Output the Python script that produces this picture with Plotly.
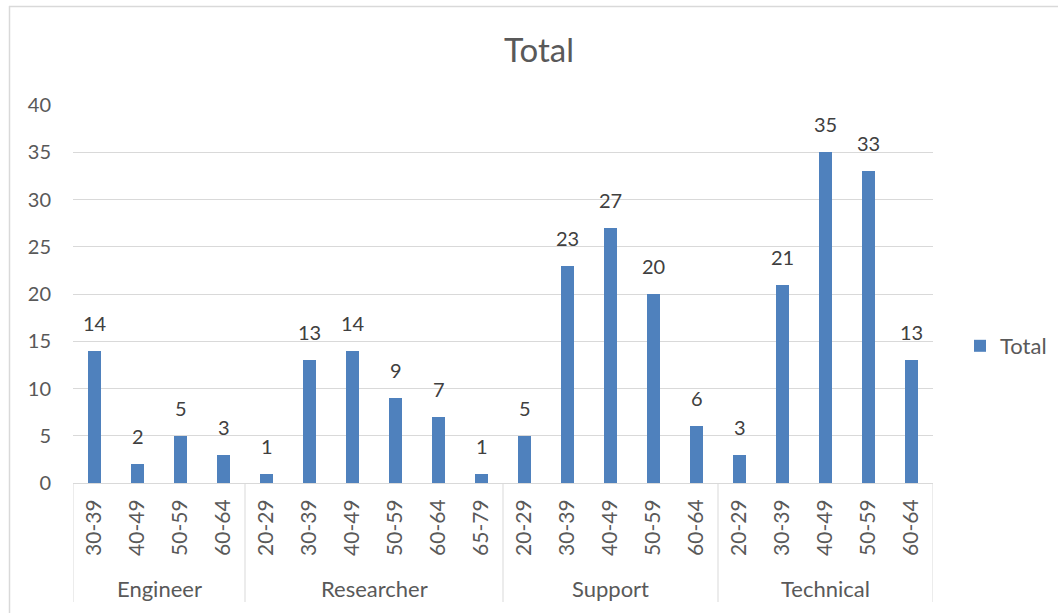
import plotly.graph_objects as go

# ---- data ----
groups = ["Engineer", "Researcher", "Support", "Technical"]
age_bands = [
    ["30-39", "40-49", "50-59", "60-64"],
    ["20-29", "30-39", "40-49", "50-59", "60-64", "65-79"],
    ["20-29", "30-39", "40-49", "50-59", "60-64"],
    ["20-29", "30-39", "40-49", "50-59", "60-64"],
]
totals = [
    [14, 2, 5, 3],
    [1, 13, 14, 9, 7, 1],
    [5, 23, 27, 20, 6],
    [3, 21, 35, 33, 13],
]
y_ticks = [0, 5, 10, 15, 20, 25, 30, 35, 40]

# ---- layout geometry (pixels) ----
W, H = 1058, 613
L, R, T, B = 73, 933, 105, 483

def px_x(px):
    return (px - L) / (R - L)

def px_y(py):
    return (B - py) / (B - T)

FONT = "Lato, Carlito, 'Open Sans', sans-serif"
GRID = "#d9d9d9"
TXT = "#595959"
BAR = "#4f81bd"

xs, ys, labels = [], [], []
bounds = [-0.5]
i = 0
for g, bands, vals in zip(groups, age_bands, totals):
    for b, v in zip(bands, vals):
        xs.append(i)
        ys.append(v)
        labels.append(b)
        i += 1
    bounds.append(i - 0.5)

fig = go.Figure()
fig.add_trace(go.Bar(
    x=xs, y=ys, name="Total", marker=dict(color=BAR, line=dict(width=0)),
    width=0.31, hoverinfo="y",
))

annotations = []
for x, v in zip(xs, ys):
    annotations.append(dict(
        x=x, y=v, xref="x", yref="y", text=str(v), showarrow=False,
        yanchor="bottom", yshift=14, font=dict(family=FONT, size=20, color="#404040"),
    ))

# group labels
start = 0
for g, bands in zip(groups, age_bands):
    center = start + (len(bands) - 1) / 2
    annotations.append(dict(
        x=center, y=px_y(588), xref="x", yref="paper", text=g, showarrow=False,
        yanchor="middle", font=dict(family=FONT, size=22, color=TXT),
    ))
    start += len(bands)

shapes = []
for bx in bounds:
    shapes.append(dict(
        type="line", xref="x", yref="paper", x0=bx, x1=bx, y0=0, y1=px_y(602),
        line=dict(color=GRID, width=1),
    ))
# chart outer border (top and left)
shapes.append(dict(type="line", xref="paper", yref="paper",
                   x0=px_x(9), x1=px_x(1070), y0=px_y(6.5), y1=px_y(6.5),
                   line=dict(color=GRID, width=1.5)))
shapes.append(dict(type="line", xref="paper", yref="paper",
                   x0=px_x(9.5), x1=px_x(9.5), y0=px_y(6), y1=px_y(620),
                   line=dict(color=GRID, width=1.5)))

fig.update_layout(
    width=W, height=H,
    margin=dict(l=L, r=W - R, t=T, b=H - B, pad=0, autoexpand=False),
    paper_bgcolor="white", plot_bgcolor="white",
    title=dict(text="Total", x=px_x(539), xanchor="center", xref="paper",
               y=1 - 50 / H, yanchor="middle",
               font=dict(family=FONT, size=33, color=TXT)),
    showlegend=True,
    legend=dict(x=px_x(960), y=px_y(346), xanchor="left", yanchor="middle",
                font=dict(family=FONT, size=22, color=TXT), bgcolor="rgba(0,0,0,0)"),
    annotations=annotations,
    shapes=shapes,
    bargap=0,
)
fig.update_xaxes(
    range=[-0.5, len(xs) - 0.5], tickmode="array", tickvals=xs, ticktext=labels,
    tickangle=-90, ticks="", showgrid=False, zeroline=False,
    showline=True, linecolor=GRID, linewidth=1,
    tickfont=dict(family=FONT, size=21, color=TXT), ticklabelstandoff=7,
)
fig.update_yaxes(
    range=[0, 40], tickmode="array", tickvals=y_ticks, ticks="",
    showgrid=True, gridcolor=GRID, gridwidth=1, zeroline=False, showline=False,
    tickfont=dict(family=FONT, size=20, color=TXT), ticklabelstandoff=21,
)

fig.write_html("out.html", config={"displayModeBar": False},
               post_script="document.body.style.margin='0';")
